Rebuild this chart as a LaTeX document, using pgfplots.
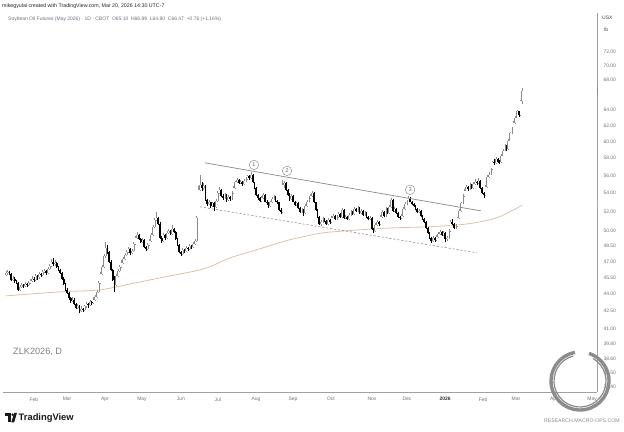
\documentclass[border=0pt]{standalone}
\usepackage{pgfplots}
\pgfplotsset{compat=1.18}
\usepackage{pgfplotstable}
\usepackage{fontspec}
\setmainfont{Liberation Sans}
\definecolor{tvtext}{HTML}{6F7380}
\definecolor{upcol}{HTML}{8A8A8A}
\definecolor{maline}{HTML}{D9C4A8}
\definecolor{trend}{HTML}{8A8A8A}
\definecolor{axisln}{HTML}{A0A0A0}
\definecolor{mabox}{HTML}{F6E6D0}
\definecolor{matext}{HTML}{B08A58}

\pgfplotsset{
  upc/.style={restrict expr to domain={\thisrow{c}-\thisrow{o}}{0:100}},
  dnc/.style={restrict expr to domain={\thisrow{o}-\thisrow{c}}{0.0001:100}},
  candle/.style={draw=none, mark=none, forget plot, error bars/.cd, y dir=plus, y explicit, error mark=none},
}

\pgfplotstableread{
t o h l c
0 45.7 46.1 45.6 45.9
1 45.9 46.2 45.7 46.0
2 46.0 46.1 45.7 45.8
3 45.8 45.9 45.2 45.3
4 45.3 45.6 45.2 45.4
5 45.4 45.5 45.0 45.2
6 45.2 45.3 44.9 45.0
7 45.0 45.1 44.3 44.4
8 44.4 44.8 44.3 44.6
9 44.6 45.0 44.5 44.8
10 44.8 44.9 44.5 44.7
11 44.7 45.1 44.6 44.9
12 44.9 45.0 44.6 44.8
13 44.8 45.2 44.7 45.0
14 45.0 45.4 44.9 45.2
15 45.2 45.6 45.1 45.4
16 45.4 45.5 45.1 45.3
17 45.3 45.8 45.2 45.6
18 45.6 45.7 45.3 45.5
19 45.5 46.0 45.4 45.8
20 45.8 45.9 45.5 45.7
21 45.7 46.2 45.6 46.0
22 46.0 46.3 45.9 46.1
23 46.1 46.2 45.7 45.9
24 45.9 46.5 45.8 46.3
25 46.3 46.8 46.2 46.6
26 46.6 47.2 46.5 47.0
27 47.0 47.3 46.6 46.8
28 46.8 47.1 46.6 46.9
29 46.9 47.0 46.4 46.5
30 46.5 46.6 46.1 46.2
31 46.2 46.3 45.8 45.9
32 45.9 46.0 45.3 45.4
33 45.4 45.5 44.8 44.9
34 44.9 45.0 44.3 44.4
35 44.4 44.5 44.0 44.1
36 44.1 44.2 43.5 43.6
37 43.6 43.7 43.2 43.4
38 43.4 43.7 43.3 43.5
39 43.5 43.6 43.0 43.1
40 43.1 43.2 42.7 42.8
41 42.8 43.1 42.7 42.9
42 42.9 43.0 42.3 42.5
43 42.5 42.9 42.4 42.7
44 42.7 42.8 42.4 42.6
45 42.6 43.0 42.5 42.9
46 42.9 43.3 42.8 43.1
47 43.1 43.2 42.8 43.0
48 43.0 43.5 42.9 43.3
49 43.3 43.4 43.0 43.2
50 43.2 43.7 43.1 43.5
51 43.5 43.9 43.4 43.7
52 43.7 44.4 43.6 44.2
53 44.2 45.2 44.1 45.0
54 45.0 46.0 44.9 45.8
55 45.8 46.7 45.7 46.5
56 46.5 47.7 46.4 47.5
57 47.5 48.9 47.3 48.3
58 48.3 48.6 47.7 47.9
59 47.9 48.0 46.9 47.0
60 47.0 47.1 46.1 46.2
61 46.2 46.3 45.2 45.3
62 45.3 45.6 44.2 44.8
63 44.8 45.8 44.7 45.6
64 45.6 46.3 45.5 46.1
65 46.1 46.7 46.0 46.5
66 46.5 47.1 46.4 46.9
67 46.9 47.4 46.8 47.2
68 47.2 47.8 47.1 47.6
69 47.6 48.1 47.5 47.9
70 47.9 48.4 47.8 48.2
71 48.2 48.3 47.6 47.8
72 47.8 48.2 47.7 48.0
73 48.0 48.9 47.9 48.7
74 48.7 49.5 48.6 49.3
75 49.3 49.9 49.2 49.6
76 49.6 49.7 49.1 49.2
77 49.2 49.3 48.8 48.9
78 48.9 49.3 48.8 49.1
79 49.1 49.2 48.3 48.4
80 48.4 48.5 48.0 48.2
81 48.2 48.8 48.1 48.6
82 48.6 49.2 48.5 49.0
83 49.0 49.8 48.9 49.6
84 49.6 50.6 49.5 50.4
85 50.4 51.3 50.3 51.1
86 51.1 52.0 51.0 51.4
87 51.4 51.5 50.6 50.7
88 50.7 50.9 49.2 49.3
89 49.3 49.5 48.8 49.0
90 49.0 49.8 48.9 49.6
91 49.6 49.7 49.1 49.3
92 49.3 50.0 49.2 49.8
93 49.8 50.2 49.7 50.0
94 50.0 50.1 49.6 49.7
95 49.7 50.6 49.6 50.2
96 50.2 50.3 49.8 49.9
97 49.9 50.0 49.1 49.2
98 49.2 49.3 48.5 48.6
99 48.6 48.7 47.8 47.9
100 47.9 48.0 47.5 47.7
101 47.7 48.3 47.6 48.1
102 48.1 48.2 47.8 48.0
103 48.0 48.5 47.9 48.3
104 48.3 48.4 48.0 48.2
105 48.2 48.7 48.1 48.5
106 48.5 48.6 48.2 48.4
107 48.4 48.9 48.3 48.7
108 48.7 49.2 48.6 49.0
109 49.0 51.6 48.9 51.4
110 51.4 54.8 51.3 54.4
111 54.4 56.0 54.2 54.9
112 54.9 55.2 54.3 54.6
113 54.6 55.1 54.4 54.8
114 54.8 54.9 53.2 53.3
115 53.3 53.4 52.6 52.8
116 52.8 53.3 52.7 53.0
117 53.0 53.1 52.4 52.6
118 52.6 53.1 52.5 52.9
119 52.9 53.0 52.1 52.5
120 52.5 53.4 52.4 53.2
121 53.2 54.2 53.1 54.0
122 54.0 54.7 53.9 54.4
123 54.4 54.5 53.6 53.7
124 53.7 53.9 53.3 53.5
125 53.5 54.0 53.4 53.8
126 53.8 53.9 53.1 53.3
127 53.3 53.8 53.2 53.6
128 53.6 53.7 53.2 53.4
129 53.4 54.2 53.3 54.0
130 54.0 54.8 53.9 54.6
131 54.6 55.4 54.5 55.2
132 55.2 55.7 55.1 55.5
133 55.5 55.6 55.0 55.1
134 55.1 55.5 55.0 55.3
135 55.3 55.4 54.8 55.0
136 55.0 55.6 54.9 55.4
137 55.4 55.8 55.3 55.6
138 55.6 56.1 55.5 55.9
139 55.9 56.0 55.5 55.7
140 55.7 56.4 55.6 56.1
141 56.1 56.2 55.1 55.2
142 55.2 55.3 54.5 54.6
143 54.6 54.7 53.7 53.8
144 53.8 53.9 53.3 53.5
145 53.5 53.6 53.0 53.2
146 53.2 53.7 53.1 53.5
147 53.5 54.0 53.4 53.8
148 53.8 53.9 53.0 53.1
149 53.1 53.3 52.7 52.9
150 52.9 53.0 52.4 52.6
151 52.6 53.2 52.5 53.0
152 53.0 53.6 52.9 53.4
153 53.4 53.8 53.3 53.6
154 53.6 53.7 53.1 53.2
155 53.2 53.3 52.8 53.0
156 53.0 53.1 52.1 52.2
157 52.2 52.4 51.8 52.0
158 52.0 55.5 51.9 54.9
159 54.9 55.4 54.6 55.1
160 55.1 55.2 54.3 54.4
161 54.4 54.5 53.7 53.8
162 53.8 54.0 53.2 53.4
163 53.4 53.9 53.3 53.7
164 53.7 53.8 53.0 53.1
165 53.1 53.2 52.6 52.7
166 52.7 53.1 52.6 52.9
167 52.9 53.0 52.3 52.4
168 52.4 52.5 51.9 52.0
169 52.0 52.4 51.9 52.2
170 52.2 52.3 51.6 51.9
171 51.9 52.8 51.8 52.6
172 52.6 53.3 52.5 53.1
173 53.1 53.7 53.0 53.5
174 53.5 53.9 53.4 53.7
175 53.7 54.3 53.6 54.0
176 54.0 54.1 52.9 53.0
177 53.0 53.1 52.1 52.2
178 52.2 52.3 51.4 51.5
179 51.5 51.6 50.6 50.7
180 50.7 51.1 50.5 50.9
181 50.9 51.5 50.8 51.3
182 51.3 51.4 50.9 51.0
183 51.0 51.1 50.6 50.7
184 50.7 51.3 50.6 51.1
185 51.1 51.2 50.7 50.9
186 50.9 51.6 50.8 51.4
187 51.4 51.8 51.3 51.6
188 51.6 51.7 51.1 51.2
189 51.2 51.7 51.1 51.5
190 51.5 52.0 51.4 51.8
191 51.8 51.9 51.4 51.5
192 51.5 52.4 51.4 52.2
193 52.2 52.3 51.2 51.3
194 51.3 51.7 51.2 51.5
195 51.5 51.6 51.1 51.2
196 51.2 51.9 51.1 51.7
197 51.7 52.2 51.6 52.0
198 52.0 52.1 51.7 51.8
199 51.8 52.5 51.7 52.3
200 52.3 52.4 52.0 52.1
201 52.1 52.6 52.0 52.4
202 52.4 52.5 51.8 51.9
203 51.9 52.3 51.8 52.1
204 52.1 52.2 51.6 51.7
205 51.7 52.1 51.6 51.9
206 51.9 52.0 51.4 51.5
207 51.5 51.6 51.1 51.2
208 51.2 51.6 51.1 51.4
209 51.4 51.5 50.1 50.2
210 50.2 50.3 49.8 50.0
211 50.0 50.8 49.9 50.6
212 50.6 51.1 50.5 50.9
213 50.9 51.0 50.5 50.7
214 50.7 51.7 50.6 51.5
215 51.5 52.2 51.4 52.0
216 52.0 52.1 51.5 51.6
217 51.6 52.5 51.5 52.3
218 52.3 52.4 51.8 51.9
219 51.9 52.7 51.8 52.5
220 52.5 53.5 52.4 53.3
221 53.3 53.4 52.0 52.1
222 52.1 52.5 52.0 52.3
223 52.3 52.4 51.8 51.9
224 51.9 52.0 51.4 51.5
225 51.5 51.6 51.1 51.3
226 51.3 51.8 51.2 51.6
227 51.6 52.5 51.5 52.3
228 52.3 53.0 52.2 52.8
229 52.8 53.3 52.7 53.1
230 53.1 53.7 53.0 53.5
231 53.5 53.6 53.0 53.1
232 53.1 53.2 52.7 52.8
233 52.8 52.9 52.5 52.6
234 52.6 52.7 52.2 52.3
235 52.3 52.4 51.9 52.0
236 52.0 52.3 51.9 52.1
237 52.1 52.2 51.5 51.6
238 51.6 51.7 51.1 51.2
239 51.2 51.3 50.8 50.9
240 50.9 51.0 50.2 50.3
241 50.3 50.4 49.7 49.8
242 49.8 49.9 49.2 49.3
243 49.3 49.4 48.8 49.0
244 49.0 49.5 48.9 49.3
245 49.3 49.4 48.9 49.1
246 49.1 49.6 49.0 49.4
247 49.4 49.9 49.3 49.7
248 49.7 50.1 49.6 49.9
249 49.9 50.0 49.5 49.6
250 49.6 50.0 49.5 49.8
251 49.8 49.9 48.9 49.2
252 49.2 49.5 49.0 49.3
253 49.3 50.2 49.2 50.0
254 50.0 51.1 49.9 50.9
255 50.9 51.2 50.6 50.7
256 50.7 50.8 50.2 50.3
257 50.3 50.7 50.2 50.5
258 50.5 51.5 50.4 51.3
259 51.3 52.3 51.2 52.1
260 52.1 53.1 52.0 52.9
261 52.9 53.9 52.8 53.7
262 53.7 54.5 53.6 54.3
263 54.3 54.9 54.2 54.7
264 54.7 54.8 54.3 54.5
265 54.5 55.1 54.4 54.9
266 54.9 55.0 54.5 54.6
267 54.6 55.2 54.5 55.0
268 55.0 55.6 54.9 55.3
269 55.3 55.4 54.9 55.1
270 55.1 55.7 55.0 55.4
271 55.4 55.5 54.5 54.6
272 54.6 54.7 53.9 54.0
273 54.0 54.1 53.5 53.8
274 53.8 54.9 53.7 54.7
275 54.7 56.0 54.6 55.8
276 55.8 56.4 55.7 56.1
277 56.1 56.9 56.0 56.7
278 56.7 57.7 56.6 57.5
279 57.5 57.9 57.2 57.4
280 57.4 58.1 57.3 57.9
281 57.9 58.0 57.4 57.6
282 57.6 57.8 57.3 57.5
283 57.5 58.5 57.4 58.3
284 58.3 59.1 58.2 58.9
285 58.9 59.7 58.8 59.5
286 59.5 59.6 58.9 59.1
287 59.1 60.3 59.0 60.1
288 60.1 61.2 60.0 61.0
289 61.0 61.8 60.9 61.6
290 61.6 62.5 61.5 62.3
291 62.3 63.2 62.2 63.0
292 63.0 64.0 62.9 63.8
293 63.8 63.9 63.1 63.3
294 63.3 65.3 63.2 65.10
295 65.10 66.89 64.80 66.47
}\ohlc

\pgfplotstableread{
t ma
0 43.83
31 44.19
54 44.37
74 45.01
94 45.65
111 46.21
119 46.68
128 47.35
145 48.23
162 49.12
181 49.82
202 50.13
221 50.33
241 50.44
259 50.64
271 50.95
282 51.47
295 52.71
}\matab

\begin{document}
\begin{tikzpicture}[x=1bp,y=1bp]
\path[use as bounding box, fill=white] (0,0) rectangle (624,431);
\begin{axis}[
  at={(3bp,39bp)}, anchor=south west, scale only axis,
  width=594bp, height=379bp,
  xmin=-1.7, xmax=337.7, ymode=log, ymin=36.05, ymax=77.94,
  axis x line=bottom, axis y line=right,
  axis line style={-, draw=axisln, line width=0.6bp},
  xtick={16,34.9,56.6,77.7,100,121.1,142.9,164,185.7,209.1,229.1,250.9,272.6,291.4,313.1,334.9},
  xticklabels={Feb,Mar,Apr,May,Jun,Jul,Aug,Sep,Oct,Nov,Dec,{\bfseries\color{black!80}2026},Feb,Mar,Apr,May},
  ytick={36.4,37.5,38.6,39.8,41,42.5,44,45.5,47,48.5,50,52,54,56,58,60,62,64,68,70,72},
  yticklabels={36.40,37.50,38.60,39.80,41.00,42.50,44.00,45.50,47.00,48.50,50.00,52.00,54.00,56.00,58.00,60.00,62.00,64.00,68.00,70.00,72.00},
  major tick length=0pt, minor tick num=0,
  tick label style={font=\fontsize{5}{6}\selectfont, text=tvtext},
  xticklabel style={yshift=-2bp},
  yticklabel style={xshift=3bp},
]
% 200-day average
\addplot[maline, line width=0.8bp, smooth, tension=0.4, mark=none] table[x=t, y=ma] {\matab};
% wicks
\addplot[upc, candle, error bar style={line width=0.5bp, draw=upcol, solid}]
  table[x=t, y=l, y error plus expr=\thisrow{h}-\thisrow{l}] {\ohlc};
\addplot[dnc, candle, error bar style={line width=0.5bp, draw=black, solid}]
  table[x=t, y=l, y error plus expr=\thisrow{h}-\thisrow{l}] {\ohlc};
% bodies
\addplot[upc, candle, error bar style={line width=1.8bp, draw=upcol, solid}]
  table[x=t, y=o, y error plus expr=\thisrow{c}-\thisrow{o}] {\ohlc};
\addplot[upc, candle, error bar style={line width=0.8bp, draw=white, solid}]
  table[x=t, y=o, y error plus expr=\thisrow{c}-\thisrow{o}] {\ohlc};
\addplot[dnc, candle, error bar style={line width=1.7bp, draw=black, solid}]
  table[x=t, y=c, y error plus expr=\thisrow{o}-\thisrow{c}] {\ohlc};
% trend lines
\addplot[trend, line width=0.7bp, mark=none] coordinates {(113.7,57.45) (271.4,52.10)};
\addplot[trend, line width=0.6bp, dash pattern=on 2bp off 2bp, mark=none] coordinates {(110.9,52.53) (269.1,47.84)};
% circled numbers
\node[circle, draw=black!50, line width=0.4bp, inner sep=0pt, minimum size=9.5bp, font=\fontsize{5.5}{6}\selectfont, text=black!60] at (axis cs:141.7,57.21) {1};
\node[circle, draw=black!50, line width=0.4bp, inner sep=0pt, minimum size=9.5bp, font=\fontsize{5.5}{6}\selectfont, text=black!60] at (axis cs:160.6,56.52) {2};
\node[circle, draw=black!50, line width=0.4bp, inner sep=0pt, minimum size=9.5bp, font=\fontsize{5.5}{6}\selectfont, text=black!60] at (axis cs:230.9,54.38) {3};
% price boxes
\node[fill=black, text=white, anchor=west, inner xsep=2.5bp, inner ysep=0pt, minimum height=7.5bp, font=\fontsize{5}{6}\selectfont] at (axis cs:337.7,66.47) {66.47};
\node[fill=mabox, text=matext, anchor=west, inner xsep=2.5bp, inner ysep=0pt, minimum height=6.5bp, font=\fontsize{5}{6}\selectfont] at (axis cs:337.7,52.71) {52.71};
\end{axis}
% header texts
\node[anchor=west, inner sep=0, font=\fontsize{5.3}{6}\selectfont, text=black!85] at (2,425) {mikegyulai created with TradingView.com, Mar 20, 2026 14:30 UTC-7};
\node[anchor=west, inner sep=0, font=\fontsize{5}{6}\selectfont, text=tvtext] at (8,412) {Soybean Oil Futures (May 2026) · 1D · CBOT \ O65.10 \ H66.89 \ L64.80 \ C66.47 \ +0.76 (+1.16\%)};
\node[anchor=west, inner sep=0, font=\fontsize{5}{6}\selectfont, text=black!75] at (602,413) {USX};
\node[anchor=west, inner sep=0, font=\fontsize{5}{6}\selectfont, text=black!75] at (604,401) {lb};
% symbol
\node[anchor=west, inner sep=0, font=\fontsize{9.2}{10}\selectfont, text=black!50] at (13,79) {ZLK2026, D};
% TradingView logo
\fill[black!90] (5,15.5) rectangle (10.8,18.2);
\fill[black!90] (8.2,8.6) rectangle (10.8,18.2);
\fill[black!90] (12.6,16.3) circle (1.35);
\fill[black!90] (14.2,18.2) -- (17.0,18.2) -- (14.1,8.6) -- (11.3,8.6) -- cycle;
\node[anchor=west, inner sep=0, font=\bfseries\fontsize{9.4}{10}\selectfont, text=black!90] at (18.5,13) {TradingView};
% watermark
\draw[line width=3.4bp, black!45] (580,50) ++(100:29) arc[start angle=100, end angle=432, radius=29];
\draw[line width=1.2bp, black!45] (580,50) ++(105:26) arc[start angle=105, end angle=420, radius=26];
\draw[line width=1.0bp, black!45] (580,50) ++(100:29) -- ++(-12,-4);
\node[anchor=east, inner sep=0, font=\fontsize{5.2}{6}\selectfont, text=black!45] at (620,10) {RESEARCH.MACRO-OPS.COM};
\end{tikzpicture}
\end{document}
